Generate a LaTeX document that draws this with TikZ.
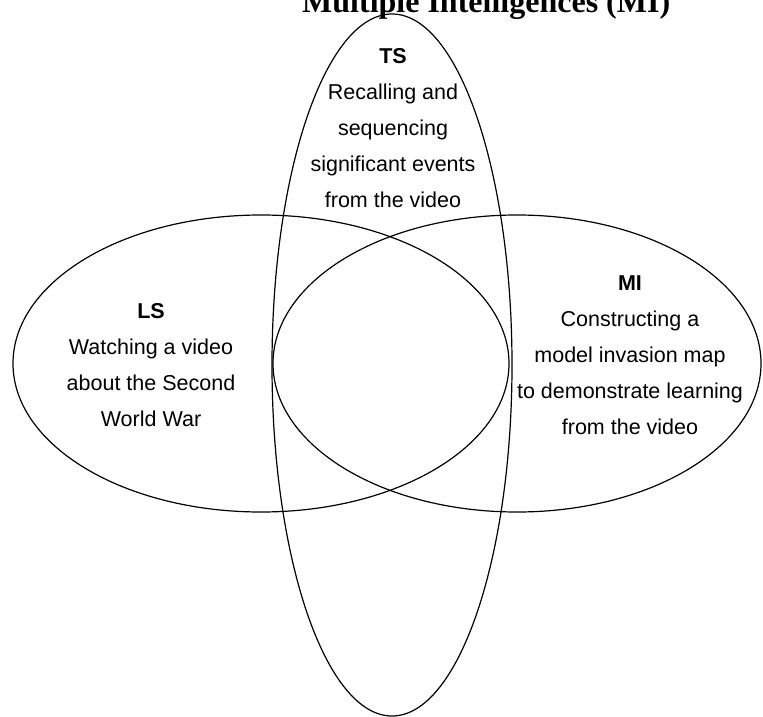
\documentclass[tikz,border=0pt]{standalone}
\usepackage{fontspec}
\setmainfont{Liberation Sans}
\newfontfamily\titlefont{Liberation Serif}
\usepackage{tikz}
\tikzset{
  ring/.style={draw=black, line width=1.2pt},
  % texto dentro de cada elipse
  blk/.style={align=center, inner sep=0pt, font=\fontsize{21.5}{36}\selectfont},
  ttl/.style={anchor=base west, inner sep=0pt, font=\titlefont\bfseries\fontsize{32}{36}\selectfont}
}

\begin{document}
\begin{tikzpicture}[x=1pt,y=-1pt]
    \useasboundingbox (0,0) rectangle (763,717);
    \clip (0,0) rectangle (763,717);
    \node[ttl] (title) at (302,13) {Multiple Intelligences (MI)};

    % tres elipses
    \draw[ring] (392,365) ellipse [x radius=120pt, y radius=351pt];
    \draw[ring] (261,363.5) ellipse [x radius=248pt, y radius=148.5pt];
    \draw[ring] (517,363.5) ellipse [x radius=244pt, y radius=148.5pt];

    % textos
    \node[blk] (ts) at (393,128) {\textbf{TS}\\Recalling and\\sequencing\\significant events\\from the video};
    \node[blk] (ls) at (151,365) {\textbf{LS}\\Watching a video\\about the Second\\World War};
    \node[blk] (mi) at (630,355) {\textbf{MI}\\Constructing a\\model invasion map\\to demonstrate learning\\from the video};
\end{tikzpicture}
\end{document}
